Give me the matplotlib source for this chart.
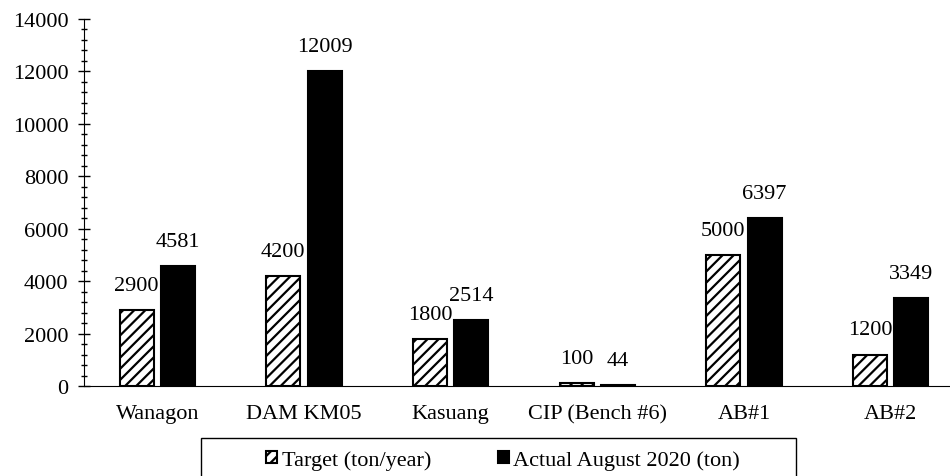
import matplotlib.pyplot as plt
import numpy as np
from matplotlib.patches import Rectangle
from matplotlib.ticker import MultipleLocator

# data
sites = ['Wanagon', 'DAM KM05', 'Kasuang', 'CIP (Bench #6)', 'AB#1', 'AB#2']
target = [2900, 4200, 1800, 100, 5000, 1200]
actual = [4581, 12009, 2514, 44, 6397, 3349]

plt.rcParams['font.family'] = 'Liberation Serif'
plt.rcParams['font.size'] = 16
plt.rcParams['hatch.linewidth'] = 1.6

fig = plt.figure(figsize=(9.5, 4.77), dpi=100)
ax = fig.add_axes([84/950, 90/477, 880/950, 367/477])

x = np.arange(len(sites))
w = 0.232
off = 0.141

b1 = ax.bar(x - off, target, w, facecolor='white', edgecolor='black',
            hatch='///', linewidth=1.5, label='Target (ton/year)')
b2 = ax.bar(x + off, actual, w, color='black', edgecolor='black',
            linewidth=1.5, label='Actual August 2020 (ton)')

# value labels above bars
for bars, vals in [(b1, target), (b2, actual)]:
    for rect, v in zip(bars, vals):
        ax.annotate(str(v), (rect.get_x() + rect.get_width()/2, rect.get_height()),
                    xytext=(0, 11), textcoords='offset points',
                    ha='center', va='bottom', fontsize=16)

ax.set_xlim(-0.5, len(sites) - 0.5)
ax.set_ylim(0, 14000)
ax.set_xticks(x)
ax.set_xticklabels(sites)
ax.yaxis.set_major_locator(MultipleLocator(2000))
ax.yaxis.set_minor_locator(MultipleLocator(400))
ax.tick_params(axis='x', length=0, pad=13)
ax.tick_params(axis='y', which='major', direction='inout', length=8.6, width=1, pad=7)
ax.tick_params(axis='y', which='minor', direction='inout', length=4.5, width=1)

ax.spines['top'].set_visible(False)
ax.spines['right'].set_visible(False)
ax.spines['bottom'].set_clip_on(False)

# legend with its box running off the bottom
fig.legend(handles=[b1, b2], loc='center', bbox_to_anchor=(503/950, 1 - 461/477),
           ncol=2, frameon=False, fontsize=16, handlelength=0.5, handleheight=0.5,
           handletextpad=0.2, columnspacing=3.0)
fig.patches.append(Rectangle((201/950, -0.05), 595/950, 0.05 + 38/477,
                             transform=fig.transFigure, fill=False,
                             edgecolor='black', linewidth=1))

fig.savefig('out.png', dpi=100)
